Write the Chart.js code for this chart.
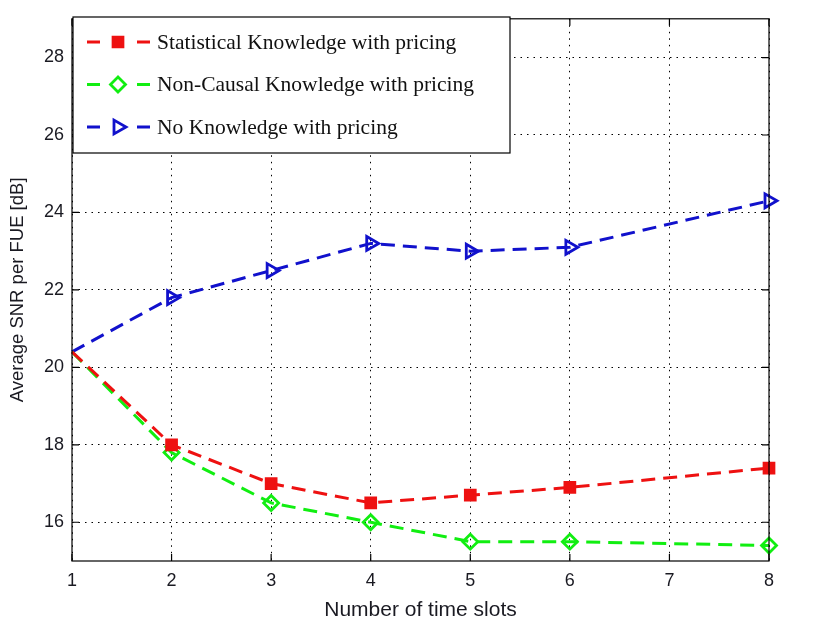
<!DOCTYPE html>
<html>
<head>
<meta charset="utf-8">
<script src="https://cdn.jsdelivr.net/npm/chart.js@4/dist/chart.umd.min.js"></script>
<style>
  body { margin: 0; background: #fff; }
  #wrap { width: 832px; height: 627px; }
</style>
</head>
<body>
<div id="wrap"><canvas id="myChart"></canvas></div>
<script>
let slots = [1, 2, 3, 4, 5, 6, 8]
let statistical = [20.4, 18.0, 17.0, 16.5, 16.7, 16.9, 17.4]
let nonCausal = [20.4, 17.8, 16.5, 16.0, 15.5, 15.5, 15.4]
let noKnowledge = [20.4, 21.8, 22.5, 23.2, 23.0, 23.1, 24.3]
let yTicks = [16, 18, 20, 22, 24, 26, 28]
let seriesNames = ["Statistical Knowledge with pricing", "Non-Causal Knowledge with pricing", "No Knowledge with pricing"]

function pts(vals) {
    return slots.map((s, i) => ({x: s, y: vals[i]}))
}

let series = [
    {label: seriesNames[0], data: pts(statistical), color: "#ee1111", style: "rect", fill: true, rot: 0, r: 7},
    {label: seriesNames[1], data: pts(nonCausal), color: "#11ee11", style: "rectRot", fill: false, rot: 0, r: 7.5},
    {label: seriesNames[2], data: pts(noKnowledge), color: "#1111cc", style: "triangle", fill: false, rot: 90, r: 8}
]

// box, inward ticks and the legend, MATLAB style
let framePlugin = {
    id: "frame",
    afterDatasetsDraw(chart) {
        let ctx = chart.ctx
        let a = chart.chartArea
        let xs = chart.scales.x, ys = chart.scales.y
        ctx.save()
        ctx.strokeStyle = "#000"
        ctx.lineWidth = 1.2
        ctx.setLineDash([])
        ctx.strokeRect(a.left, a.top, a.right - a.left, a.bottom - a.top)
        ctx.beginPath()
        for (let v = 1; v <= 8; v++) {
            let px = xs.getPixelForValue(v)
            ctx.moveTo(px, a.bottom); ctx.lineTo(px, a.bottom - 7)
            ctx.moveTo(px, a.top); ctx.lineTo(px, a.top + 7)
        }
        yTicks.forEach(v => {
            let py = ys.getPixelForValue(v)
            ctx.moveTo(a.left, py); ctx.lineTo(a.left + 7, py)
            ctx.moveTo(a.right, py); ctx.lineTo(a.right - 7, py)
        })
        ctx.stroke()

        // legend
        let lx = 73, ly = 17, lw = 437, lh = 136
        ctx.fillStyle = "#fff"
        ctx.fillRect(lx, ly, lw, lh)
        ctx.strokeRect(lx, ly, lw, lh)
        ctx.font = "21.5px 'Liberation Serif'"
        ctx.textBaseline = "middle"
        series.forEach((s, i) => {
            let y = 42 + i * 42.5
            ctx.strokeStyle = s.color
            ctx.lineWidth = 3
            ctx.setLineDash([])
            ctx.beginPath()
            ctx.moveTo(87, y); ctx.lineTo(100, y)
            ctx.moveTo(137, y); ctx.lineTo(150, y)
            ctx.stroke()
            ctx.lineWidth = 2.8
            ctx.fillStyle = s.fill ? s.color : "#fff"
            Chart.helpers.drawPoint(ctx, {pointStyle: s.style, radius: s.r, rotation: s.rot, borderWidth: 2.8}, 118, y)
            ctx.fillStyle = "#111"
            ctx.fillText(s.label, 157, y + 1)
        })
        ctx.restore()
    }
}

new Chart(document.getElementById("myChart"), {
    type: "line",
    data: {
        datasets: series.map(s => ({
            label: s.label,
            data: s.data,
            borderColor: s.color,
            backgroundColor: s.fill ? s.color : "#fff0",
            borderWidth: 3,
            borderDash: [14, 8],
            pointStyle: s.style,
            pointRotation: s.rot,
            // first point has no marker in the original
            pointRadius: slots.map((x, i) => i == 0 ? 0 : s.r),
            pointBorderWidth: 2.8,
            pointBorderColor: s.color,
            pointBackgroundColor: s.fill ? s.color : "rgba(0,0,0,0)",
            tension: 0,
            clip: false
        }))
    },
    options: {
        responsive: true,
        maintainAspectRatio: false,
        animation: false,
        layout: {padding: {top: 13, right: 63, left: 0, bottom: 0}},
        plugins: {legend: {display: false}, tooltip: {enabled: false}},
        scales: {
            x: {
                type: "linear",
                min: 1, max: 8,
                afterFit: s => { s.height = 66 },
                afterBuildTicks: s => { s.ticks = [1,2,3,4,5,6,7,8].map(v => ({value: v})) },
                grid: {color: "#000", lineWidth: 1, tickLength: 0, drawTicks: false},
                border: {display: false, dash: [1.5, 5]},
                ticks: {color: "#1a1a22", font: {family: "'Liberation Sans'", size: 18}, padding: 9},
                title: {display: true, text: "Number of time slots", color: "#1a1a22", font: {family: "'Liberation Sans'", size: 21}, padding: {top: 0}}
            },
            y: {
                min: 15, max: 29,
                afterFit: s => { s.width = 72 },
                afterBuildTicks: s => { s.ticks = yTicks.map(v => ({value: v})) },
                grid: {color: "#000", lineWidth: 1, tickLength: 0, drawTicks: false},
                border: {display: false, dash: [1.5, 5]},
                ticks: {color: "#1a1a22", font: {family: "'Liberation Sans'", size: 18}, padding: 8},
                title: {display: true, text: "Average SNR per FUE [dB]", color: "#1a1a22", font: {family: "'Liberation Sans'", size: 18.5}, padding: {top: 7, bottom: 1}}
            }
        }
    },
    plugins: [framePlugin]
})
</script>
</body>
</html>
